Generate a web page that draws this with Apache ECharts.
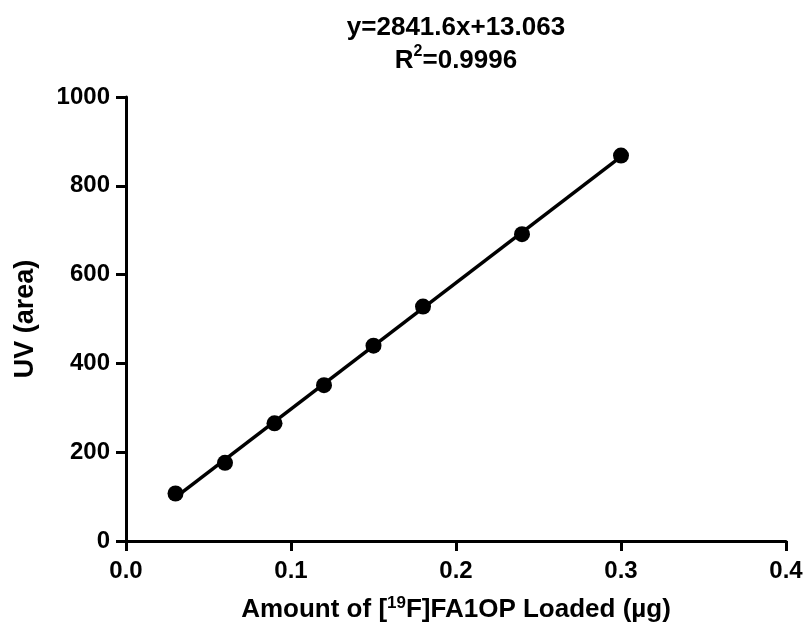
<!DOCTYPE html>
<html>
<head>
<meta charset="utf-8">
<script src="https://cdn.jsdelivr.net/npm/echarts@6/dist/echarts.min.js"></script>
<style>
html,body{margin:0;padding:0;background:#fff;}
#c{width:808px;height:633px;}
</style>
</head>
<body>
<div id="c"></div>
<script>
// Data
const amounts = [0.03, 0.06, 0.09, 0.12, 0.15, 0.18, 0.24, 0.30];
const uvArea = [107, 176, 265, 351, 440, 528, 691, 868];
// Regression line endpoints (y=2841.6x+13.063 at first and last amount)
const fitX = [0.03, 0.30];
const fitY = [98.3, 865.5];
const xTicks = ['0.0', '0.1', '0.2', '0.3', '0.4'];
const yTicks = ['0', '200', '400', '600', '800', '1000'];

const FONT = '"Liberation Sans", Arial, sans-serif';
const chart = echarts.init(document.getElementById('c'), null, {renderer: 'canvas'});

chart.setOption({
  animation: false,
  backgroundColor: '#fff',
  title: {
    text: '{a|y=2841.6x+13.063}\n{a|R}{s|2}{a|=0.9996}',
    left: 451,
    top: 6,
    textAlign: 'center',
    textStyle: {
      rich: {
        a: {fontFamily: FONT, fontWeight: 'bold', fontSize: 26, color: '#000', lineHeight: 33},
        s: {fontFamily: FONT, fontWeight: 'bold', fontSize: 16, color: '#000', lineHeight: 33, verticalAlign: 'top', padding: [0, 0, 10, 0]}
      }
    }
  },
  grid: {left: 126, right: 22, top: 97, bottom: 92, containLabel: false},
  xAxis: {
    type: 'value',
    min: 0, max: 0.4, interval: 0.1,
    name: '{a|Amount of [}{s|19}{a|F]FA1OP Loaded (µg)}',
    nameLocation: 'middle',
    nameGap: 54,
    nameTextStyle: {
      rich: {
        a: {fontFamily: FONT, fontWeight: 'bold', fontSize: 26, color: '#000', lineHeight: 30},
        s: {fontFamily: FONT, fontWeight: 'bold', fontSize: 17, color: '#000', lineHeight: 30, verticalAlign: 'top', padding: [0, 0, 10, 0]}
      }
    },
    axisLine: {show: true, onZero: false, lineStyle: {color: '#000', width: 3}},
    axisTick: {show: true, inside: false, length: 10, lineStyle: {color: '#000', width: 3}},
    axisLabel: {
      margin: 18, color: '#000', fontFamily: FONT, fontWeight: 'bold', fontSize: 24,
      formatter: function (v) { return xTicks[Math.round(v * 10)]; }
    },
    splitLine: {show: false}
  },
  yAxis: {
    type: 'value',
    min: 0, max: 1000, interval: 200,
    name: 'UV (area)',
    nameLocation: 'middle',
    nameGap: 87,
    nameTextStyle: {fontFamily: FONT, fontWeight: 'bold', fontSize: 27, color: '#000'},
    axisLine: {show: true, onZero: false, lineStyle: {color: '#000', width: 3}},
    axisTick: {show: true, inside: false, length: 10, lineStyle: {color: '#000', width: 3}},
    axisLabel: {
      margin: 16, color: '#000', fontFamily: FONT, fontWeight: 'bold', fontSize: 24,
      formatter: function (v) { return yTicks[Math.round(v / 200)]; }
    },
    splitLine: {show: false}
  },
  series: [
    {
      type: 'line',
      data: fitX.map((x, i) => [x, fitY[i]]),
      showSymbol: false,
      symbol: 'none',
      lineStyle: {color: '#000', width: 3.5},
      silent: true,
      z: 2
    },
    {
      type: 'scatter',
      data: amounts.map((x, i) => [x, uvArea[i]]),
      symbol: 'circle',
      symbolSize: 16,
      itemStyle: {color: '#000', opacity: 1},
      z: 3
    }
  ]
});
</script>
</body>
</html>
